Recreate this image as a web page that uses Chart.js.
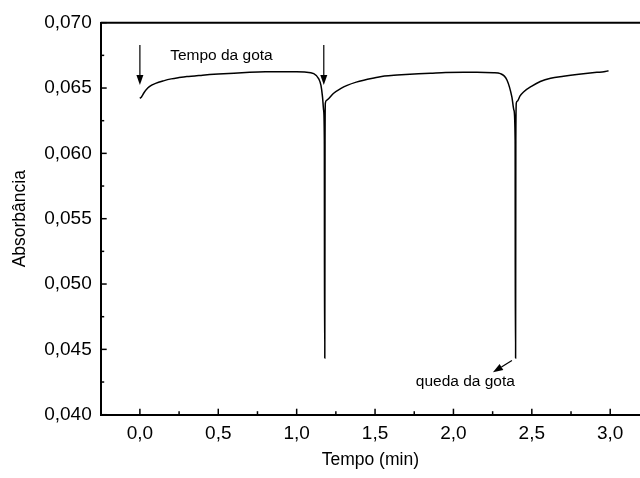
<!DOCTYPE html>
<html>
<head>
<meta charset="utf-8">
<script src="https://cdn.jsdelivr.net/npm/chart.js@4"></script>
<style>
  html, body { margin: 0; padding: 0; background: #fff; }
  #wrap { width: 640px; height: 478px; position: relative; }
</style>
</head>
<body>
<div id="wrap"><canvas id="absChart"></canvas></div>
<script>
// data
const timeMin = [
  0.000, 0.010, 0.025, 0.050, 0.075, 0.100, 0.150, 0.200, 0.250, 0.300,
  0.350, 0.400, 0.500, 0.600, 0.700, 0.800, 0.900, 1.000, 1.050, 1.109,
  1.141, 1.155, 1.165, 1.172, 1.1765, 1.178, 1.1795, 1.181, 1.183, 1.190,
  1.205, 1.236, 1.280, 1.322, 1.380, 1.428, 1.500, 1.560, 1.641, 1.750,
  1.853, 1.950, 2.065, 2.150, 2.256, 2.300, 2.342, 2.373, 2.386, 2.3935,
  2.395, 2.3965, 2.398, 2.401, 2.408, 2.425, 2.447, 2.500, 2.554, 2.620,
  2.702, 2.800, 2.915, 2.960, 2.989
];
const absorbance = [
  0.06421, 0.06432, 0.06462, 0.06500, 0.06522, 0.06536, 0.06555, 0.06570, 0.06580, 0.06588,
  0.06592, 0.06598, 0.06607, 0.06614, 0.06620, 0.06624, 0.06625, 0.06625, 0.06622, 0.06610,
  0.06570, 0.06520, 0.06430, 0.06330, 0.06100, 0.04434, 0.04434, 0.06100, 0.06385, 0.06405,
  0.06420, 0.06460, 0.06495, 0.06520, 0.06545, 0.06560, 0.06578, 0.06592, 0.06600, 0.06608,
  0.06613, 0.06618, 0.06620, 0.06620, 0.06617, 0.06610, 0.06560, 0.06430, 0.06330, 0.06100,
  0.04434, 0.04434, 0.06100, 0.06385, 0.06400, 0.06440, 0.06470, 0.06515, 0.06550, 0.06575,
  0.06590, 0.06605, 0.06620, 0.06625, 0.06632
];

const xTicks = [0.0, 0.5, 1.0, 1.5, 2.0, 2.5, 3.0];
const xMinorTicks = [0.25, 0.75, 1.25, 1.75, 2.25, 2.75];
const yTicks = [0.040, 0.045, 0.050, 0.055, 0.060, 0.065, 0.070];
const yMinorTicks = [0.0425, 0.0475, 0.0525, 0.0575, 0.0625, 0.0675];

// annotations [x, y] in data units
const dropArrows = [[0.0, 0.06829, 0.06523], [1.173, 0.06829, 0.06523]];
const labelTempo = { text: 'Tempo da gota', x: 0.52, y: 0.0675 };
const labelQueda = { text: 'queda da gota', x: 2.076, y: 0.0425 };
const quedaArrow = [[2.373, 0.04414], [2.252, 0.04324]];

const FONT = '"Liberation Sans", Arial, sans-serif';

function arrow(ctx, x1, y1, x2, y2) {
  const ang = Math.atan2(y2 - y1, x2 - x1);
  const len = 10, half = 3.5;
  const bx = x2 - Math.cos(ang) * len, by = y2 - Math.sin(ang) * len;
  ctx.beginPath();
  ctx.moveTo(x1, y1);
  ctx.lineTo(bx, by);
  ctx.stroke();
  ctx.beginPath();
  ctx.moveTo(x2, y2);
  ctx.lineTo(bx + Math.sin(ang) * half, by - Math.cos(ang) * half);
  ctx.lineTo(bx - Math.sin(ang) * half, by + Math.cos(ang) * half);
  ctx.closePath();
  ctx.fill();
}

const extras = {
  id: 'extras',
  afterDraw(chart) {
    const { ctx, chartArea: a, scales: { x, y } } = chart;
    ctx.save();
    ctx.strokeStyle = '#000';
    ctx.fillStyle = '#000';

    // top frame
    ctx.lineWidth = 2;
    ctx.beginPath();
    ctx.moveTo(a.left, a.top);
    ctx.lineTo(a.right, a.top);
    ctx.stroke();

    // inward ticks
    ctx.lineWidth = 1.5;
    const tick = (x1, y1, x2, y2) => { ctx.beginPath(); ctx.moveTo(x1, y1); ctx.lineTo(x2, y2); ctx.stroke(); };
    xTicks.forEach(v => { const p = x.getPixelForValue(v); tick(p, a.bottom, p, a.bottom - 6); });
    xMinorTicks.forEach(v => { const p = x.getPixelForValue(v); tick(p, a.bottom, p, a.bottom - 3.5); });
    yTicks.forEach(v => { const p = y.getPixelForValue(v); tick(a.left, p, a.left + 6, p); });
    yMinorTicks.forEach(v => { const p = y.getPixelForValue(v); tick(a.left, p, a.left + 3.5, p); });

    // arrows
    ctx.lineWidth = 1.2;
    dropArrows.forEach(d => {
      const px = x.getPixelForValue(d[0]);
      arrow(ctx, px, y.getPixelForValue(d[1]), px, y.getPixelForValue(d[2]));
    });
    arrow(ctx,
      x.getPixelForValue(quedaArrow[0][0]), y.getPixelForValue(quedaArrow[0][1]),
      x.getPixelForValue(quedaArrow[1][0]), y.getPixelForValue(quedaArrow[1][1]));

    // labels
    ctx.font = '15.5px ' + FONT;
    ctx.textAlign = 'center';
    ctx.textBaseline = 'middle';
    [labelTempo, labelQueda].forEach(l => {
      ctx.fillText(l.text, x.getPixelForValue(l.x), y.getPixelForValue(l.y));
    });
    ctx.restore();
  }
};

new Chart(document.getElementById('absChart'), {
  type: 'line',
  data: {
    datasets: [{
      data: timeMin.map((t, i) => ({ x: t, y: absorbance[i] })),
      borderColor: '#000',
      borderWidth: 1.5,
      pointRadius: 0,
      cubicInterpolationMode: 'monotone',
      fill: false
    }]
  },
  options: {
    responsive: true,
    maintainAspectRatio: false,
    animation: false,
    devicePixelRatio: 1,
    layout: { padding: { top: 22.7, right: 0, bottom: 0, left: 0 } },
    plugins: { legend: { display: false }, tooltip: { enabled: false } },
    scales: {
      x: {
        type: 'linear',
        min: -0.25,
        max: 3.19,
        afterBuildTicks: s => { s.ticks = xTicks.map(v => ({ value: v })); },
        afterFit: s => { s.height = 63.3; },
        grid: { display: false, drawTicks: false },
        border: { display: true, color: '#000', width: 2 },
        ticks: {
          color: '#000',
          font: { family: FONT, size: 19 },
          padding: 8,
          maxRotation: 0,
          callback: v => v.toFixed(1).replace('.', ',')
        },
        title: {
          display: true,
          text: 'Tempo (min)',
          color: '#000',
          font: { family: FONT, size: 17.5 },
          padding: { top: 0, bottom: 7 }
        }
      },
      y: {
        type: 'linear',
        min: 0.040,
        max: 0.070,
        afterBuildTicks: s => { s.ticks = yTicks.map(v => ({ value: v })); },
        afterFit: s => { s.width = 100.7; },
        grid: { display: false, drawTicks: false },
        border: { display: true, color: '#000', width: 2 },
        ticks: {
          color: '#000',
          font: { family: FONT, size: 19 },
          padding: 9,
          callback: v => v.toFixed(3).replace('.', ',')
        },
        title: {
          display: true,
          text: 'Absorbância',
          color: '#000',
          font: { family: FONT, size: 17.5 },
          padding: { top: 10, bottom: 0 }
        }
      }
    }
  },
  plugins: [extras]
});
</script>
</body>
</html>
